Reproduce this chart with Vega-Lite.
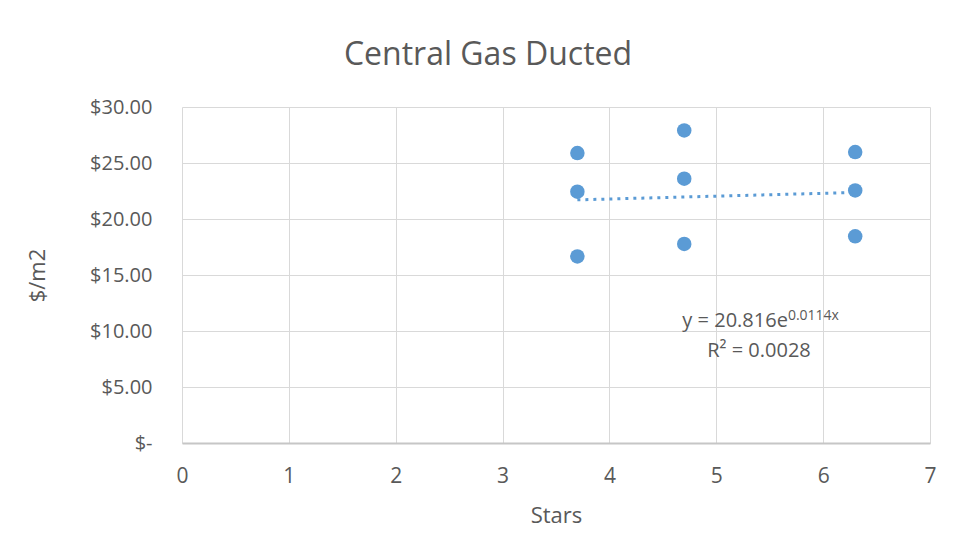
{
  "$schema": "https://vega.github.io/schema/vega-lite/v6.json",
  "width": 748,
  "height": 336,
  "autosize": {"type": "none"},
  "padding": {"left": 182, "top": 107, "right": 26, "bottom": 115},
  "background": "white",
  "config": {
    "font": "Open Sans",
    "view": {"stroke": null},
    "axis": {"labelColor": "#595959", "titleColor": "#595959", "labelFont": "Open Sans", "titleFont": "Open Sans", "titleFontWeight": "normal", "gridColor": "#d9d9d9", "gridWidth": 1, "ticks": false, "tickSize": 0}
  },
  "title": {
    "text": "Central Gas Ducted",
    "font": "Open Sans",
    "fontSize": 32,
    "fontWeight": "normal",
    "color": "#595959",
    "anchor": "middle",
    "frame": "group",
    "dx": -68,
    "baseline": "alphabetic",
    "offset": 0
  },
  "data": {
    "values": [
      {"series": "data", "stars": 3.7, "cost": 25.89},
      {"series": "data", "stars": 3.7, "cost": 22.44},
      {"series": "data", "stars": 3.7, "cost": 16.66},
      {"series": "data", "stars": 4.7, "cost": 27.91},
      {"series": "data", "stars": 4.7, "cost": 23.6},
      {"series": "data", "stars": 4.7, "cost": 17.77},
      {"series": "data", "stars": 6.3, "cost": 25.98},
      {"series": "data", "stars": 6.3, "cost": 22.55},
      {"series": "data", "stars": 6.3, "cost": 18.45},
      {"series": "trend", "stars": 3.7, "cost": 21.71},
      {"series": "trend", "stars": 6.3, "cost": 22.37}
    ]
  },
  "encoding": {
    "x": {
      "field": "stars",
      "type": "quantitative",
      "scale": {"domain": [0, 7], "nice": false, "zero": false},
      "axis": {"title": "Stars", "values": [0, 1, 2, 3, 4, 5, 6, 7], "labelFontSize": 21, "titleFontSize": 22, "labelPadding": 22, "titlePadding": 19, "domainColor": "#c6c6c6", "domainWidth": 2, "labelFlush": false}
    },
    "y": {
      "field": "cost",
      "type": "quantitative",
      "scale": {"domain": [0, 30], "nice": false},
      "axis": {"title": "$/m2", "values": [0, 5, 10, 15, 20, 25, 30], "labelExpr": "datum.value == 0 ? '$-' : '$' + format(datum.value, '.2f')", "labelFontSize": 20, "titleFontSize": 22, "labelPadding": 30, "titlePadding": 40, "domain": false}
    }
  },
  "layer": [
    {
      "transform": [{"filter": "datum.series == 'data'"}],
      "mark": {"type": "point", "filled": true, "shape": "circle", "size": 210, "color": "#5b9bd5", "opacity": 1}
    },
    {
      "transform": [{"filter": "datum.series == 'trend'"}],
      "mark": {"type": "line", "color": "#5b9bd5", "strokeWidth": 3, "strokeDash": [3, 5]}
    },
    {
      "transform": [{"filter": "datum.series == 'trend' && datum.stars > 6"}],
      "mark": {"type": "text", "text": "y = 20.816e", "fontSize": 20, "color": "#595959", "align": "right", "baseline": "alphabetic", "font": "Open Sans"},
      "encoding": {"x": {"datum": 5.67}, "y": {"datum": 10.4}}
    },
    {
      "transform": [{"filter": "datum.series == 'trend' && datum.stars > 6"}],
      "mark": {"type": "text", "text": "0.0114x", "fontSize": 14, "color": "#595959", "align": "left", "baseline": "alphabetic", "font": "Open Sans"},
      "encoding": {"x": {"datum": 5.67}, "y": {"datum": 11.0}}
    },
    {
      "transform": [{"filter": "datum.series == 'trend' && datum.stars > 6"}],
      "mark": {"type": "text", "text": "R² = 0.0028", "fontSize": 20, "color": "#595959", "align": "center", "baseline": "alphabetic", "font": "Open Sans"},
      "encoding": {"x": {"datum": 5.4}, "y": {"datum": 7.7}}
    }
  ]
}
